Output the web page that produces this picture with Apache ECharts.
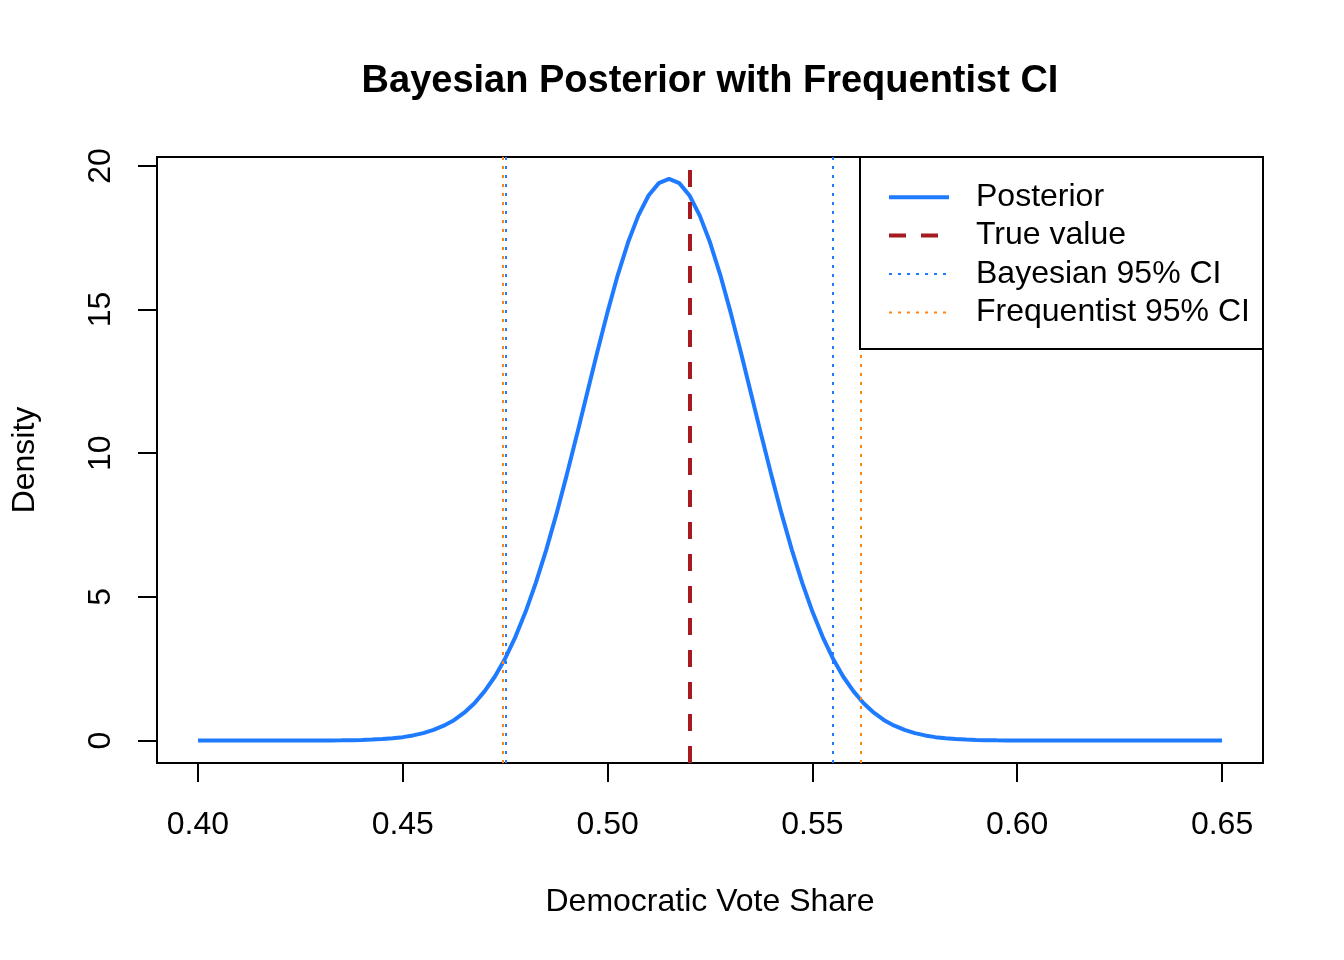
<!DOCTYPE html>
<html>
<head>
<meta charset="utf-8">
<script src="https://cdn.jsdelivr.net/npm/echarts@6/dist/echarts.min.js"></script>
<style>
  html, body { margin: 0; padding: 0; background: #fff; }
  #chart { width: 1344px; height: 960px; }
</style>
</head>
<body>
<div id="chart"></div>
<script>
// posterior density sampled on a 0.0025 grid from 0.40 to 0.65
var xStart = 0.40;
var xStep = 0.0025;
var density = [
  0, 0, 0, 0, 0, 0, 0, 0, 0,
  0.001, 0.001, 0.002, 0.003, 0.005, 0.009, 0.014, 0.023, 0.035, 0.054, 0.082,
  0.12, 0.18, 0.26, 0.37, 0.52, 0.71, 0.97, 1.30, 1.72, 2.23,
  2.86, 3.61, 4.49, 5.50, 6.63, 7.88, 9.23, 10.64, 12.09, 13.53,
  14.92, 16.21, 17.34, 18.27, 18.97, 19.40, 19.55,
  19.40, 18.97, 18.27, 17.34, 16.21, 14.92, 13.53, 12.09, 10.64, 9.23,
  7.88, 6.63, 5.50, 4.49, 3.61, 2.86, 2.23, 1.72, 1.30, 0.97,
  0.71, 0.52, 0.37, 0.26, 0.18, 0.12, 0.082, 0.054, 0.035, 0.023,
  0.014, 0.009, 0.005, 0.003, 0.002, 0.001, 0.001,
  0, 0, 0, 0, 0, 0, 0, 0, 0, 0, 0, 0, 0, 0, 0, 0, 0
];
var trueValue = [0.52];
var bayesCI = [0.4751, 0.5550];
var freqCI = [0.4743, 0.5619];
var xTicks = [0.40, 0.45, 0.50, 0.55, 0.60, 0.65];
var yTicks = [0, 5, 10, 15, 20];
var legendNames = ['Posterior', 'True value', 'Bayesian 95% CI', 'Frequentist 95% CI'];

var BLUE = '#1E7BFF';
var RED = '#A51B20';
var ORANGE = '#FF8410';
var FONT = '"Liberation Sans", Arial, Helvetica, sans-serif';

var styles = [
  { color: BLUE, width: 4, type: 'solid' },
  { color: RED, width: 4, type: [17, 15] },
  { color: BLUE, width: 2, type: [3, 6] },
  { color: ORANGE, width: 2, type: [3, 6] }
];

var curve = density.map(function (d, i) {
  return [+(xStart + i * xStep).toFixed(4), d];
});

var vlines = function (vals) {
  return vals.map(function (v) { return { xAxis: v }; });
};

var dom = document.getElementById('chart');
var myChart = echarts.init(dom);
var option = {
  animation: false,
  backgroundColor: '#fff',
  textStyle: { fontFamily: FONT, color: '#000' },
  grid: {
    left: 157, right: 81, top: 157, bottom: 197,
    show: true, borderColor: '#000', borderWidth: 2, backgroundColor: 'transparent'
  },
  graphic: [{
    type: 'text', x: 710, y: 82, z: 100,
    style: {
      text: 'Bayesian Posterior with Frequentist CI',
      align: 'center', verticalAlign: 'middle',
      font: 'bold 38px ' + FONT, fill: '#000'
    }
  }, {
    type: 'rect', z: 50,
    shape: { x: 860, y: 157, width: 403, height: 192 },
    style: { fill: '#fff', stroke: '#000', lineWidth: 2 }
  }],
  legend: {
    data: legendNames.map(function (n, i) {
      return { name: n, lineStyle: styles[i] };
    }),
    orient: 'vertical',
    left: 887, top: 178,
    z: 60,
    padding: 0,
    itemGap: 0,
    itemWidth: 60,
    itemHeight: 20,
    selectedMode: false,
    itemStyle: { opacity: 0, color: 'transparent', borderWidth: 0 },
    textStyle: { fontSize: 32, color: '#000', lineHeight: 38.4, padding: [0, 0, 0, 22], fontFamily: FONT }
  },
  xAxis: {
    type: 'value',
    min: 0.39, max: 0.66,
    name: 'Democratic Vote Share',
    nameLocation: 'middle',
    nameGap: 123,
    nameTextStyle: { fontSize: 32, color: '#000' },
    axisLine: { show: false, onZero: false },
    splitLine: { show: false },
    axisTick: {
      show: true, inside: false, length: 19, customValues: xTicks,
      lineStyle: { color: '#000', width: 2 }
    },
    axisLabel: {
      customValues: xTicks, margin: 46, fontSize: 32, color: '#000',
      formatter: function (v) { return v.toFixed(2); }
    }
  },
  yAxis: {
    type: 'value',
    min: -0.78, max: 20.31,
    name: 'Density',
    nameLocation: 'middle',
    nameRotate: 90,
    nameGap: 116,
    nameTextStyle: { fontSize: 32, color: '#000' },
    axisLine: { show: false, onZero: false },
    splitLine: { show: false },
    axisTick: {
      show: true, inside: false, length: 19, customValues: yTicks,
      lineStyle: { color: '#000', width: 2 }
    },
    axisLabel: {
      customValues: yTicks, margin: 40, fontSize: 32, color: '#000', rotate: 90
    }
  },
  series: [{
    name: 'Posterior',
    type: 'line',
    data: curve,
    symbol: 'none',
    smooth: false,
    lineStyle: styles[0],
    itemStyle: { color: BLUE }
  }, {
    name: 'True value',
    type: 'line',
    data: [],
    symbol: 'none',
    lineStyle: styles[1],
    itemStyle: { color: RED },
    markLine: {
      silent: true, symbol: 'none', precision: 4, label: { show: false },
      lineStyle: styles[1],
      data: vlines(trueValue)
    }
  }, {
    name: 'Bayesian 95% CI',
    type: 'line',
    data: [],
    symbol: 'none',
    lineStyle: styles[2],
    itemStyle: { color: BLUE },
    markLine: {
      silent: true, symbol: 'none', precision: 4, label: { show: false },
      lineStyle: styles[2],
      data: vlines(bayesCI)
    }
  }, {
    name: 'Frequentist 95% CI',
    type: 'line',
    data: [],
    symbol: 'none',
    lineStyle: styles[3],
    itemStyle: { color: ORANGE },
    markLine: {
      silent: true, symbol: 'none', precision: 4, label: { show: false },
      lineStyle: styles[3],
      data: vlines(freqCI)
    }
  }]
};
if (option && typeof option === "object") {
  myChart.setOption(option, true);
}
</script>
</body>
</html>
